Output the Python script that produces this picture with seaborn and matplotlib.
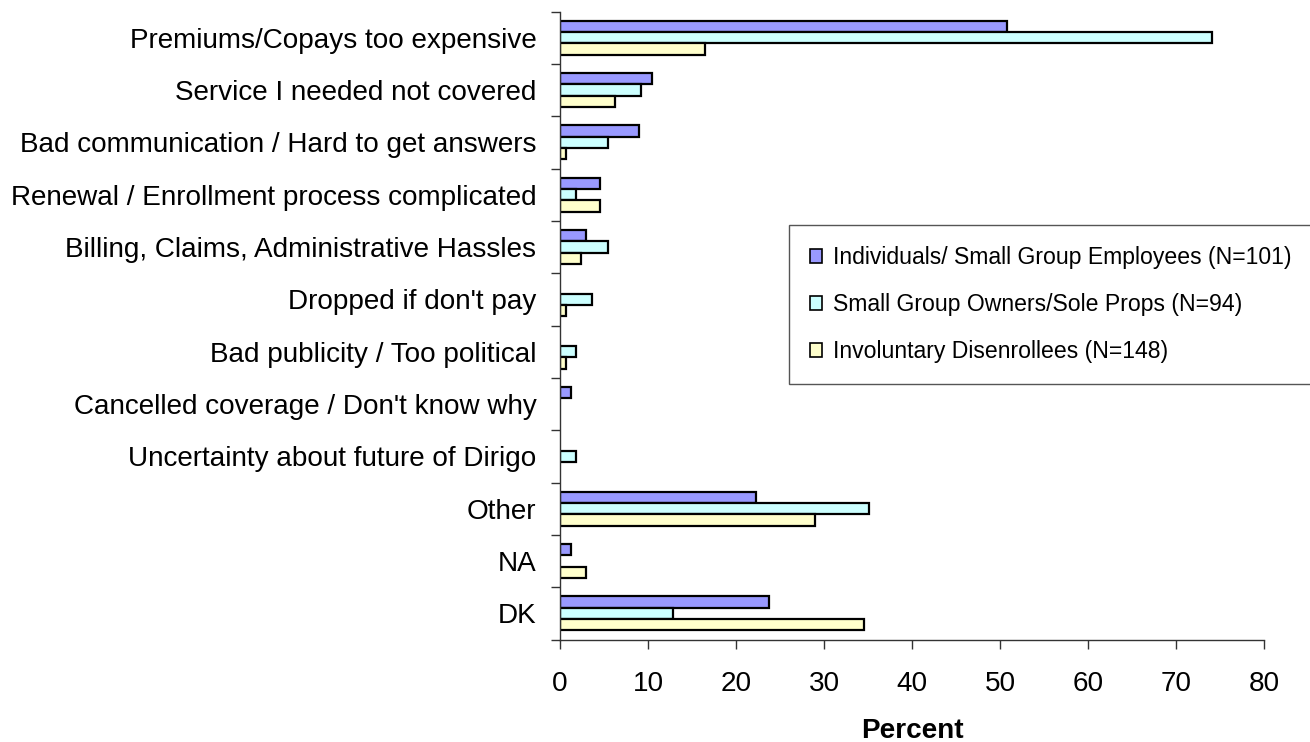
import matplotlib
matplotlib.use("Agg")
import matplotlib.pyplot as plt
import seaborn as sns
import pandas as pd
import numpy as np

# Reasons for leaving, percent of each respondent group
reasons = [
    "Premiums/Copays too expensive",
    "Service I needed not covered",
    "Bad communication / Hard to get answers",
    "Renewal / Enrollment process complicated",
    "Billing, Claims, Administrative Hassles",
    "Dropped if don't pay",
    "Bad publicity / Too political",
    "Cancelled coverage / Don't know why",
    "Uncertainty about future of Dirigo",
    "Other",
    "NA",
    "DK",
]
groups = [
    "Individuals/ Small Group Employees (N=101)",
    "Small Group Owners/Sole Props (N=94)",
    "Involuntary Disenrollees (N=148)",
]
individuals = [50.8, 10.4, 9.0, 4.5, 3.0, 0.0, 0.0, 1.3, 0.0, 22.3, 1.3, 23.8]
owners = [74.1, 9.2, 5.4, 1.8, 5.4, 3.6, 1.8, 0.0, 1.8, 35.1, 0.0, 12.8]
involuntary = [16.5, 6.3, 0.7, 4.6, 2.4, 0.7, 0.7, 0.0, 0.0, 29.0, 3.0, 34.5]
x_ticks = [0, 10, 20, 30, 40, 50, 60, 70, 80]

colors = ["#9999FF", "#CCFFFF", "#FFFFCC"]

rows = []
for g, vals in zip(groups, [individuals, owners, involuntary]):
    for r, v in zip(reasons, vals):
        rows.append({"Reason": r, "Group": g, "Percent": v})
df = pd.DataFrame(rows)
# empty categories draw nothing
df.loc[df["Percent"] == 0, "Percent"] = np.nan

sns.set_theme(style="white")
plt.rcParams["font.family"] = ["Liberation Sans", "DejaVu Sans"]
plt.rcParams["text.color"] = "black"

fig = plt.figure(figsize=(13.1, 7.42), dpi=100)
ax = fig.add_axes([560 / 1310, 1 - 639.5 / 742, 704 / 1310, 628 / 742])

sns.barplot(
    data=df, y="Reason", x="Percent", hue="Group",
    order=reasons, hue_order=groups, palette=colors,
    orient="h", width=0.65, gap=0, edgecolor="black", linewidth=1.6,
    saturation=1, errorbar=None, ax=ax,
)

ax.set_xlim(0, 80)
ax.set_ylim(len(reasons) - 0.5, -0.5)
ax.set_xticks(x_ticks)
ax.set_yticks(range(len(reasons)))
ax.set_yticklabels(reasons)
ax.set_yticks(np.arange(-0.5, len(reasons), 1.0), minor=True)

axis_color = "#333333"
for side in ["top", "right"]:
    ax.spines[side].set_visible(False)
for side in ["left", "bottom"]:
    ax.spines[side].set_color(axis_color)
    ax.spines[side].set_linewidth(1.0)

ax.tick_params(axis="y", which="major", length=0, pad=17, labelsize=20.1, labelcolor="black")
ax.tick_params(axis="y", which="minor", left=True, length=6.5, width=1.0, color=axis_color, direction="out")
ax.tick_params(axis="x", which="major", bottom=True, length=6.5, width=1.0, color=axis_color,
               direction="out", pad=16, labelsize=20.1, labelcolor="black")

ax.set_ylabel("")
ax.set_xlabel("Percent", fontsize=20.1, fontweight="bold", labelpad=15, color="black")

leg = ax.legend(
    loc="upper left", bbox_to_anchor=(789 / 1310, 1 - 225 / 742),
    bbox_transform=fig.transFigure, fontsize=16.6, frameon=True, fancybox=False,
    edgecolor="#555555", framealpha=1, handlelength=0.55, handleheight=0.55,
    handletextpad=0.45, labelspacing=1.05, borderpad=0.9, borderaxespad=0,
    labelcolor="black",
)
leg.get_frame().set_linewidth(1.0)
for h in leg.legend_handles:
    h.set_edgecolor("black")
    h.set_linewidth(1.2)

fig.savefig("out.png", dpi=100)
